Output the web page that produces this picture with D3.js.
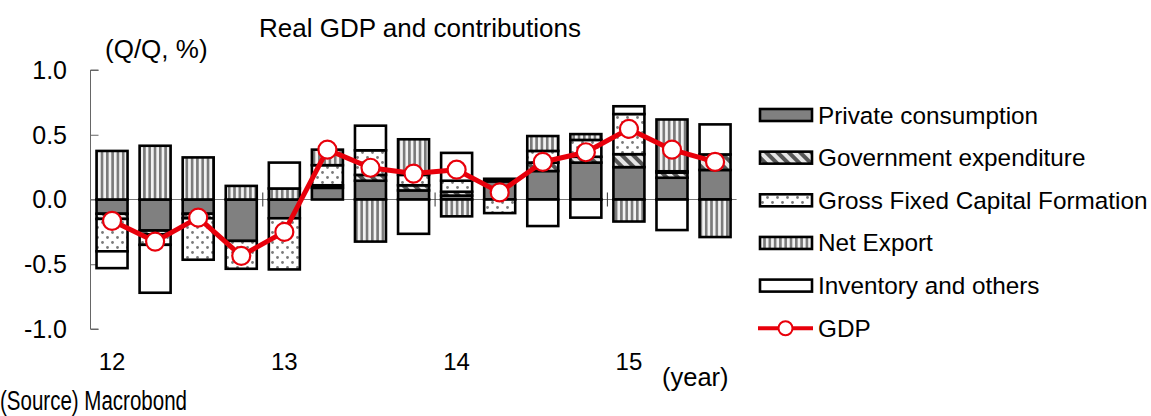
<!DOCTYPE html>
<html>
<head>
<meta charset="utf-8">
<script src="https://cdn.jsdelivr.net/npm/d3@7/dist/d3.min.js"></script>
<style>
  html, body { margin: 0; padding: 0; background: #fff; }
  svg { display: block; font-family: "Liberation Sans", Arial, sans-serif; }
</style>
</head>
<body>
<svg id="chart" width="1151" height="416"></svg>
<script>
// Quarterly contributions to real GDP growth (Q/Q, %), 2012Q1 - 2015Q3
const quarters = ["12Q1","12Q2","12Q3","12Q4","13Q1","13Q2","13Q3","13Q4",
                  "14Q1","14Q2","14Q3","14Q4","15Q1","15Q2","15Q3"];
const privateConsumption = [-0.11, -0.24, -0.11, -0.32, -0.145, 0.09, 0.145, 0.07, 0.03, 0.14, 0.22, 0.285, 0.25, 0.168, 0.228];
const governmentExpenditure = [-0.04, -0.03, -0.035, 0, 0, 0.02, 0.045, 0.04, 0.03, 0.02, 0.065, 0.045, 0.10, 0.04, 0.12];
const grossFixedCapital = [-0.25, -0.08, -0.32, -0.215, -0.395, 0.155, 0.19, 0.08, 0.085, -0.105, 0.09, 0.13, 0.31, 0.01, 0];
const netExport = [0.375, 0.415, 0.325, 0.105, 0.085, 0.12, -0.325, 0.275, -0.13, 0, 0.115, 0.045, -0.17, 0.40, -0.29];
const inventoryOthers = [-0.13, -0.37, 0, 0, 0.2, 0, 0.19, -0.265, 0.215, 0, -0.205, -0.14, 0.06, -0.236, 0.232];
const gdp = [-0.165, -0.325, -0.14, -0.435, -0.25, 0.385, 0.245, 0.20, 0.23, 0.055, 0.29, 0.365, 0.545, 0.385, 0.29];

const yTicks = [1.0, 0.5, 0.0, -0.5, -1.0];
const yearLabels = [{q: "12Q1", label: "12"}, {q: "13Q1", label: "13"}, {q: "14Q1", label: "14"}, {q: "15Q1", label: "15"}];
const yearBoundaries = ["13Q1", "14Q1", "15Q1"];

const seriesNames = ["Private consumption", "Government expenditure", "Gross Fixed Capital Formation", "Net Export", "Inventory and others"];
const seriesKeys = ["pc", "gov", "gfcf", "ne", "inv"];
const seriesFills = ["#808080", "url(#hatchGov)", "url(#dotsGfcf)", "url(#stripesNe)", "#ffffff"];

const rows = quarters.map((q, i) => ({
  q,
  pc: privateConsumption[i],
  gov: governmentExpenditure[i],
  gfcf: grossFixedCapital[i],
  ne: netExport[i],
  inv: inventoryOthers[i]
}));

const svg = d3.select("#chart");

// ---- patterns ----
const defs = svg.append("defs");
const hatch = defs.append("pattern")
  .attr("id", "hatchGov").attr("patternUnits", "userSpaceOnUse")
  .attr("width", 8).attr("height", 8).attr("patternTransform", "rotate(-45)");
hatch.append("rect").attr("width", 8).attr("height", 8).attr("fill", "#e6e6e6");
hatch.append("rect").attr("width", 4).attr("height", 8).attr("fill", "#555");

const dots = defs.append("pattern")
  .attr("id", "dotsGfcf").attr("patternUnits", "userSpaceOnUse")
  .attr("width", 10).attr("height", 10);
dots.append("rect").attr("width", 10).attr("height", 10).attr("fill", "#fff");
dots.append("circle").attr("cx", 2.5).attr("cy", 2.5).attr("r", 1.4).attr("fill", "#7a7a7a");
dots.append("circle").attr("cx", 7.5).attr("cy", 7.5).attr("r", 1.4).attr("fill", "#7a7a7a");

const stripes = defs.append("pattern")
  .attr("id", "stripesNe").attr("patternUnits", "userSpaceOnUse")
  .attr("width", 5.3).attr("height", 10);
stripes.append("rect").attr("width", 5.3).attr("height", 10).attr("fill", "#f2f2f2");
stripes.append("rect").attr("x", 0).attr("width", 2.6).attr("height", 10).attr("fill", "#7a7a7a");

// ---- scales ----
const x = d3.scaleBand().domain(quarters).range([90.5, 736.6]).paddingInner(0.28).paddingOuter(0.14);
const y = d3.scaleLinear().domain([-1, 1]).range([329, 70]);

// ---- y axis ----
const yAxis = d3.axisRight(y).tickValues(yTicks).tickSize(8).tickFormat("");
const yg = svg.append("g").attr("transform", "translate(90.5,0)").call(yAxis);
yg.select(".domain").attr("stroke", "#666").attr("stroke-width", 1).attr("d", `M8,${y(1)}H0V${y(-1)}H8`);
yg.selectAll(".tick line").attr("stroke", "#666");

svg.append("g").selectAll("text").data(yTicks).join("text")
  .attr("x", 67).attr("y", d => y(d)).attr("dy", "0.35em")
  .attr("text-anchor", "end").attr("font-size", 25).attr("fill", "#000")
  .text(d => d3.format(".1f")(d).replace("−", "-"));

// zero line
svg.append("line")
  .attr("x1", 90.5).attr("x2", x.range()[1])
  .attr("y1", y(0)).attr("y2", y(0))
  .attr("stroke", "#777").attr("stroke-width", 1.2);

// year boundary marks
svg.append("g").selectAll("line").data(yearBoundaries).join("line")
  .attr("x1", d => x(d) - x.step() * x.paddingInner() / 2)
  .attr("x2", d => x(d) - x.step() * x.paddingInner() / 2)
  .attr("y1", y(0) - 7).attr("y2", y(0) + 7)
  .attr("stroke", "#333").attr("stroke-width", 1);

// ---- stacked bars ----
const stack = d3.stack().keys(seriesKeys).offset(d3.stackOffsetDiverging);
const stacked = stack(rows);

svg.append("g").selectAll("g").data(stacked).join("g")
  .attr("fill", (d, i) => seriesFills[i])
  .selectAll("rect")
  .data(d => d.filter(s => Math.abs(s[1] - s[0]) > 1e-9))
  .join("rect")
  .attr("x", d => x(d.data.q))
  .attr("width", x.bandwidth())
  .attr("y", d => y(Math.max(d[0], d[1])))
  .attr("height", d => Math.abs(y(d[0]) - y(d[1])))
  .attr("stroke", "#000").attr("stroke-width", 2.6);

// ---- GDP line ----
const red = "#e8000b";
const line = d3.line().x((d, i) => x(quarters[i]) + x.bandwidth() / 2).y(d => y(d));
svg.append("path").datum(gdp)
  .attr("d", line).attr("fill", "none")
  .attr("stroke", red).attr("stroke-width", 5).attr("stroke-linejoin", "round");
svg.append("g").selectAll("circle").data(gdp).join("circle")
  .attr("cx", (d, i) => x(quarters[i]) + x.bandwidth() / 2)
  .attr("cy", d => y(d)).attr("r", 9)
  .attr("fill", "#fff").attr("stroke", red).attr("stroke-width", 2.2);

// ---- texts ----
svg.append("text").attr("x", 420).attr("y", 37).attr("text-anchor", "middle")
  .attr("font-size", 26).text("Real GDP and contributions");
svg.append("text").attr("x", 105).attr("y", 58).attr("font-size", 26).text("(Q/Q, %)");

svg.append("g").selectAll("text").data(yearLabels).join("text")
  .attr("x", d => x(d.q) + x.bandwidth() / 2).attr("y", 370)
  .attr("text-anchor", "middle").attr("font-size", 24).text(d => d.label);
svg.append("text").attr("x", 662).attr("y", 386).attr("font-size", 25.5).text("(year)");
svg.append("text").attr("x", 0).attr("y", 410).attr("font-size", 27)
  .attr("textLength", 187).attr("lengthAdjust", "spacingAndGlyphs").text("(Source) Macrobond");

// ---- legend ----
const legend = svg.append("g");
const rowY = i => 115 + i * 42.65;
seriesNames.forEach((name, i) => {
  legend.append("rect").attr("x", 760).attr("y", rowY(i) - 6).attr("width", 52).attr("height", 12)
    .attr("fill", seriesFills[i]).attr("stroke", "#000").attr("stroke-width", 2.6);
  legend.append("text").attr("x", 818).attr("y", rowY(i)).attr("dy", "0.35em")
    .attr("font-size", 24.3).text(name);
});
legend.append("line").attr("x1", 758).attr("x2", 813).attr("y1", rowY(5)).attr("y2", rowY(5))
  .attr("stroke", red).attr("stroke-width", 4);
legend.append("circle").attr("cx", 785.5).attr("cy", rowY(5)).attr("r", 7)
  .attr("fill", "#fff").attr("stroke", red).attr("stroke-width", 2);
legend.append("text").attr("x", 818).attr("y", rowY(5)).attr("dy", "0.35em")
  .attr("font-size", 24.3).text("GDP");
</script>
</body>
</html>
